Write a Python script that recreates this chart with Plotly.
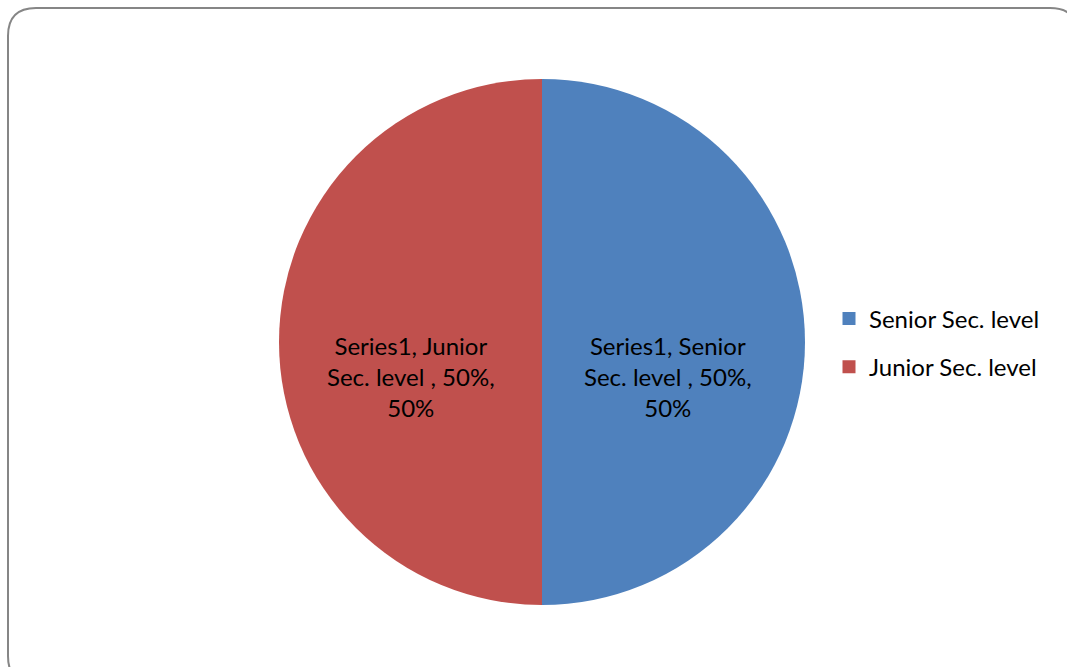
import plotly.graph_objects as go

W, H = 1067, 667

series_name = "Series1"
labels = ["Senior Sec. level", "Junior Sec. level"]
values = [50, 50]
colors = ["#4F81BD", "#C0504D"]

FONT = "Lato, 'Open Sans', sans-serif"

# slice labels: "Series1, Senior<br>Sec. level , 50%,<br>50%"
total = sum(values)
slice_text = []
for lbl, v in zip(labels, values):
    first, rest = lbl.split(" ", 1)
    pct = f"{round(100 * v / total)}%"
    slice_text.append(f"{series_name}, {first}<br>{rest} , {pct},<br>{pct}")

def px_x(x):
    return x / W

def px_y(y):
    return 1 - y / H

fig = go.Figure()

cx, cy, r = 542, 342, 263
fig.add_trace(go.Pie(
    labels=labels,
    values=values,
    textinfo="none",
    marker=dict(colors=colors, line=dict(width=0)),
    sort=False,
    direction="clockwise",
    rotation=0,
    showlegend=False,
    hoverinfo="label+percent",
    domain=dict(x=[px_x(cx - r), px_x(cx + r)], y=[px_y(cy + r), px_y(cy - r)]),
))

# data labels placed inside each half
label_pos = [(668, 376), (411, 376)]
annotations = [
    dict(text=t, x=px_x(x), y=px_y(y), xref="paper", yref="paper",
         xanchor="center", yanchor="middle", showarrow=False, align="center",
         font=dict(size=24, family=FONT, color="#000000"))
    for t, (x, y) in zip(slice_text, label_pos)
]

# legend entries, one group each so they can be spaced apart
for i, (lbl, c) in enumerate(zip(labels, colors)):
    fig.add_trace(go.Scatter(
        x=[None], y=[None], mode="markers", name=lbl,
        legendgroup=f"g{i}",
        marker=dict(symbol="square", size=13, color=c),
    ))

# rounded chart-area frame
x0, y0, x1, y1, rr = 8, 8, 1078, 684, 28
path = (
    f"M {px_x(x0)},{px_y(y0 + rr)} "
    f"Q {px_x(x0)},{px_y(y0)} {px_x(x0 + rr)},{px_y(y0)} "
    f"L {px_x(x1 - rr)},{px_y(y0)} "
    f"Q {px_x(x1)},{px_y(y0)} {px_x(x1)},{px_y(y0 + rr)} "
    f"L {px_x(x1)},{px_y(y1 - rr)} "
    f"Q {px_x(x1)},{px_y(y1)} {px_x(x1 - rr)},{px_y(y1)} "
    f"L {px_x(x0 + rr)},{px_y(y1)} "
    f"Q {px_x(x0)},{px_y(y1)} {px_x(x0)},{px_y(y1 - rr)} Z"
)

fig.update_layout(
    width=W, height=H,
    margin=dict(l=0, r=0, t=0, b=0),
    paper_bgcolor="#FFFFFF",
    plot_bgcolor="#FFFFFF",
    xaxis=dict(visible=False),
    yaxis=dict(visible=False),
    annotations=annotations,
    shapes=[dict(type="path", xref="paper", yref="paper", path=path,
                 line=dict(color="#868686", width=2), fillcolor="rgba(0,0,0,0)",
                 layer="above")],
    legend=dict(
        x=px_x(829), y=px_y(343), xanchor="left", yanchor="middle",
        font=dict(size=24, family=FONT, color="#000000"),
        tracegroupgap=14,
        itemwidth=30,
        bgcolor="rgba(0,0,0,0)",
    ),
    showlegend=True,
)

fig.write_html("out.html")
